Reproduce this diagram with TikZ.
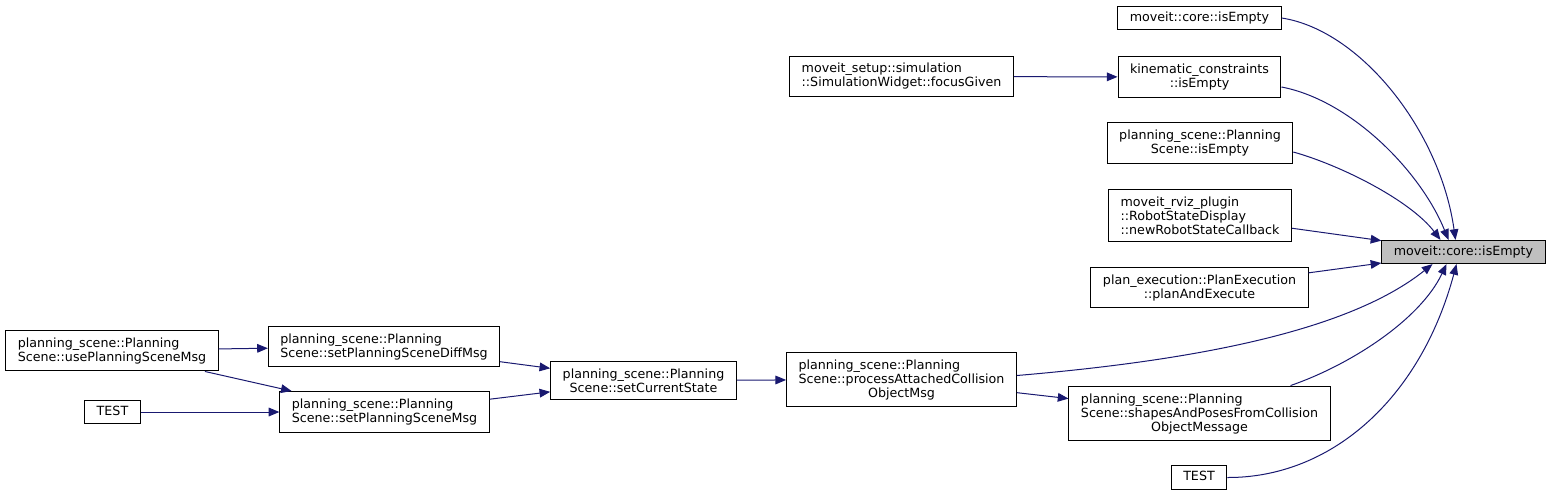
\documentclass[tikz,border=0pt]{standalone}
\usepackage{fontspec}
\setsansfont{DejaVu Sans}
\usepackage{tikz}
\usetikzlibrary{arrows.meta, positioning, calc}
\definecolor{edgeblue}{HTML}{191970}
\definecolor{curgray}{HTML}{BFBFBF}

\begin{document}
\begin{tikzpicture}[
  x=0.75pt, y=-0.75pt,
  fn/.style={rectangle, draw=black, line width=0.75pt, fill=white, align=center, inner xsep=9pt, inner ysep=5.5pt, font=\sffamily\fontsize{9.5}{10.5}\selectfont},
  fnone/.style={fn, text height=7.2pt, text depth=2.2pt, inner ysep=4pt},
  arr/.style={-{Triangle[length=8pt, width=6.5pt]}, line width=0.75pt, color=edgeblue},
]
\useasboundingbox (0,0) rectangle (1552,497);

% The function itself
\node[fnone, fill=curgray] (main) at (1463.5,252) {moveit::core::isEmpty};

% Right column: direct callers
\node[fnone] (ce) at (1199.5,18) {moveit::core::isEmpty};
\node[fn] (kin) at (1199.5,77) {kinematic\_constraints\\::isEmpty};
\node[fn] (psempty) at (1200,143) {planning\_scene::Planning\\Scene::isEmpty};
\node[fn, align=left] (rviz) at (1200,215.5) {moveit\_rviz\_plugin\\::RobotStateDisplay\\::newRobotStateCallback};
\node[fn] (plan) at (1199.5,287.5) {plan\_execution::PlanExecution\\::planAndExecute};
\node[fn, align=left] (shapes) at (1199.5,413.5) {planning\_scene::Planning\\Scene::shapesAndPosesFromCollision\\\hfil ObjectMessage};
\node[fnone] (testr) at (1199,477.5) {TEST};

% Middle column
\node[fn, align=left] (sim) at (901.5,76.5) {moveit\_setup::simulation\\::SimulationWidget::focusGiven};
\node[fn, align=left] (pac) at (901.5,379.5) {planning\_scene::Planning\\Scene::processAttachedCollision\\\hfil ObjectMsg};

% Left part: callers of processAttachedCollisionObjectMsg
\node[fn] (setcur) at (643.5,380.5) {planning\_scene::Planning\\Scene::setCurrentState};
\node[fn, align=left] (diff) at (384,346.5) {planning\_scene::Planning\\Scene::setPlanningSceneDiffMsg};
\node[fn, align=left] (sps) at (384.5,412) {planning\_scene::Planning\\Scene::setPlanningSceneMsg};
\node[fn, align=left] (use) at (112,350.5) {planning\_scene::Planning\\Scene::usePlanningSceneMsg};
\node[fnone] (testl) at (112.5,412) {TEST};

% Straight edges
\draw[arr] (sim) -- (kin);
\draw[arr] (rviz) -- (main);
\draw[arr] (plan) -- (main);
\draw[arr] (pac) -- (shapes);
\draw[arr] (setcur) -- (pac);
\draw[arr] (diff) -- (setcur);
\draw[arr] (sps) -- (setcur);
\draw[arr] (use) -- (diff);
\draw[arr] (use) -- (sps);
\draw[arr] (testl) -- (sps);

% Curved edges into the top of main
\draw[arr] (ce.east) .. controls (1360,30) and (1440,130) .. ($(main.north)+(-8,0)$);
\draw[arr] ($(kin.east)+(0,10)$) .. controls (1350,100) and (1420,170) .. ($(main.north)+(-15,0)$);
\draw[arr] ($(psempty.east)+(0,9)$) .. controls (1340,165) and (1410,200) .. ($(main.north)+(-23,0)$);

% Curved edges into the bottom of main
\draw[arr] ($(pac.east)+(0,-4)$) .. controls (1200,360) and (1350,330) .. ($(main.south)+(-31,0)$);
\draw[arr] ($(shapes.north east)+(-40,0)$) .. controls (1350,365) and (1420,320) .. ($(main.south)+(-17,0)$);
\draw[arr] (testr.east) .. controls (1330,478) and (1420,400) .. ($(main.south)+(-7,0)$);
\end{tikzpicture}
\end{document}
